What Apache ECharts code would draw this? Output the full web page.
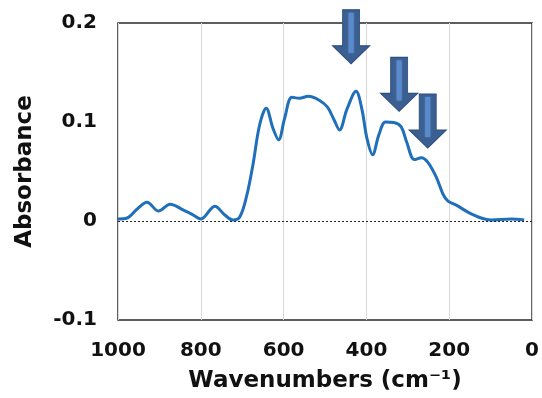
<!DOCTYPE html>
<html><head><meta charset="utf-8">
<script src="https://cdn.jsdelivr.net/npm/echarts@6/dist/echarts.min.js"></script>
<style>html,body{margin:0;padding:0;background:#fff}#c{width:542px;height:398px}</style>
</head><body><div id="c"></div>
<script>
var wavenumbers = [1000,978,954,930,902,874,842,822,800,766,742,722,706,690,674,658,642,626,612,598,580,562,540,514,494,478,465,447,425,411,399,385,370,354,334,316,303,284,267,251,231,215,203,183,155,123,99,51,19];
var absorbance = [0.002,0.003,0.012,0.019,0.010,0.017,0.011,0.007,0.002,0.015,0.006,0.001,0.004,0.024,0.057,0.097,0.114,0.094,0.082,0.103,0.125,0.124,0.126,0.122,0.115,0.102,0.092,0.113,0.131,0.113,0.084,0.067,0.087,0.100,0.0995,0.095,0.080,0.062,0.064,0.059,0.044,0.027,0.020,0.016,0.009,0.003,0.001,0.002,0.001];
var xTicks = [0,200,400,600,800,1000];
var yTicks = [-0.1,0,0.1,0.2];
var arrowPositions = [[437,0.186],[321,0.138],[252,0.101]];

var font = 'DejaVu Sans';
var chart = echarts.init(document.getElementById('c'), null, {renderer:'canvas'});
var arrowPath = 'path://M10,0 L27,0 L27,36 L37,36 L18.5,54 L0,36 L10,36 Z';
var markData = [];
arrowPositions.forEach(function(p){
  markData.push({coord:p, symbol:arrowPath, symbolSize:[37,54],
    itemStyle:{color:'#3b5f90',borderColor:'#2e4e7c',borderWidth:1}});
});
arrowPositions.forEach(function(p){
  markData.push({coord:p, symbol:'rect', symbolSize:[5,40], symbolOffset:[0,-4],
    itemStyle:{color:'#5a8acb',borderWidth:0,shadowBlur:2,shadowColor:'#5a8acb'}});
});
chart.setOption({
  animation:false,
  grid:{left:118,right:6,top:23,bottom:74,show:true,borderColor:'#2a2a2a',borderWidth:1.5,backgroundColor:'transparent'},
  xAxis:{type:'value',inverse:true,min:0,max:1000,interval:200,
    name:'Wavenumbers (cm\u207B\u00B9)',nameLocation:'middle',nameGap:50,
    nameTextStyle:{fontFamily:font,fontWeight:'bold',fontSize:23,color:'#111'},
    axisLine:{show:false},axisTick:{show:false},
    axisLabel:{fontFamily:font,fontWeight:'bold',fontSize:20,color:'#111',margin:21,
      formatter:function(v){return String(v);}},
    splitLine:{show:true,lineStyle:{color:'#d9d9d9',width:1}}},
  yAxis:{type:'value',min:-0.1,max:0.2,interval:0.1,
    name:'Absorbance',nameLocation:'middle',nameGap:81,
    nameTextStyle:{fontFamily:font,fontWeight:'bold',fontSize:23,color:'#111'},
    axisLine:{show:false},axisTick:{show:false},splitLine:{show:false},
    axisLabel:{fontFamily:font,fontWeight:'bold',fontSize:20,color:'#111',margin:21,
      formatter:function(v){var r=Math.round(v*10)/10;return yTicks.indexOf(r)>=0?String(r):'';}}},
  series:[{type:'line',smooth:0.35,showSymbol:false,
    data:wavenumbers.map(function(w,i){return [w,absorbance[i]];}),
    lineStyle:{color:'#1f6fba',width:3},
    markLine:{silent:true,symbol:'none',label:{show:false},
      lineStyle:{color:'#222',type:[2,2],width:1},data:[{yAxis:0}]},
    markPoint:{silent:true,label:{show:false},data:markData}
  }]
});
</script></body></html>
